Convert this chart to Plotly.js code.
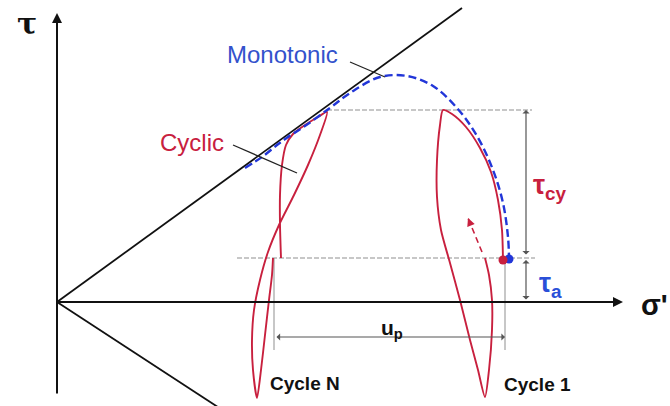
<!DOCTYPE html>
<html><head><meta charset="utf-8">
<script src="https://cdn.plot.ly/plotly-3.0.1.min.js"></script>
<style>html,body{margin:0;padding:0;background:#fff;}#c{width:670px;height:406px;}</style>
</head><body><div id="c"></div>
<script>
// Schematic data: sigma' (x) and tau (y) in arbitrary units, origin at the axes' crossing
const failureUpper = {x:[0, 405], y:[0, 294]};
const failureLower = {x:[0, 170], y:[0, -111]};
const monoX = [188,205,220,231,245,273,293,323,350,376,400,420,436,446,451,452];
const monoY = [134,145,157,165,174,194,209,225,226,216,194,166,132,99,65,44];
const cycNX = [224,223,223,225,229,236,248,261,270,263,251,237,222,211,203,197,195,196,200,204,208,212,215,216];
const cycNY = [44,77,107,137,157,168,177,185,190,167,137,107,77,50,22,-8,-38,-68,-96,-68,-33,2,27,44];
const cyc1X = [446,445,441,434,423,409,395,386,383,380,380,384,393,403,413,421,428,432,435,435,432,428];
const cyc1Y = [42,72,102,130,154,175,188,192,177,142,105,72,39,2,-38,-68,-95,-68,-28,2,27,44];
const reloadX = [425, 411];
const reloadY = [50, 84];
const tauCy = 192;      // cyclic shear stress level
const tauA = 44;        // initial (ambient) shear stress level
const upLeft = 217, upRight = 448;   // permanent displacement u_p ends
const labels = {tau:'τ', sigma:"σ'", mono:'Monotonic', cyclic:'Cyclic', cycN:'Cycle N', cyc1:'Cycle 1',
  up:'u<sub>p</sub>', tcy:'τ<sub>cy</sub>', ta:'τ<sub>a</sub>'};

const RED = '#c8203e', BLUE = '#2236d8', GREY = '#8f8f8f', DARK = '#555555';
const FONT = 'Liberation Sans, Arial, sans-serif';

const traces = [
  {x:failureUpper.x, y:failureUpper.y, mode:'lines', line:{color:'#111', width:1.8}},
  {x:failureLower.x, y:failureLower.y, mode:'lines', line:{color:'#111', width:1.8}},
  {x:[180, 478], y:[tauA, tauA], mode:'lines', line:{color:GREY, width:1, dash:'5px,2px'}},
  {x:[270, 475], y:[tauCy, tauCy], mode:'lines', line:{color:GREY, width:1, dash:'5px,2px'}},
  {x:[upLeft, upLeft], y:[tauA, -48], mode:'lines', line:{color:GREY, width:1}},
  {x:[upRight, upRight], y:[tauA-2, -48], mode:'lines', line:{color:GREY, width:1}},
  {x:cycNX, y:cycNY, mode:'lines', line:{color:RED, width:1.9, shape:'spline', smoothing:0.7}},
  {x:cyc1X, y:cyc1Y, mode:'lines', line:{color:RED, width:1.9, shape:'spline', smoothing:0.7}},
  {x:monoX, y:monoY, mode:'lines', line:{color:BLUE, width:2.4, dash:'8px,4px', shape:'spline', smoothing:1}},
  {x:reloadX, y:reloadY, mode:'lines', line:{color:RED, width:1.6, dash:'6px,4px'}},
  {x:[reloadX[1]], y:[reloadY[1]], mode:'markers', marker:{symbol:'arrow-up', size:8, color:RED, angle:-22}},
  {x:[monoX[monoX.length-1]], y:[monoY[monoY.length-1]-1], mode:'markers', marker:{color:BLUE, size:9}},
  {x:[cyc1X[0]], y:[cyc1Y[0]], mode:'markers', marker:{color:RED, size:9}},
  {x:[176, 240], y:[157, 129], mode:'lines', line:{color:'#222', width:1.3}},
  {x:[293, 328], y:[240, 225], mode:'lines', line:{color:'#222', width:1.3}}
];
traces.forEach(t => { t.hoverinfo = 'skip'; t.showlegend = false; t.type = 'scatter'; });

function arrow(x, y, ax, ay, color, width, both, head) {
  return {x:x, y:y, ax:ax, ay:ay, xref:'x', yref:'y', axref:'x', ayref:'y', text:'', showarrow:true,
    arrowhead: head || 2, startarrowhead: head || 2, arrowsize:1, arrowwidth:width, arrowcolor:color,
    arrowside: both ? 'end+start' : 'end', standoff:0, startstandoff:0};
}
function label(x, y, text, color, size, bold, xanchor, family) {
  return {x:x, y:y, xref:'x', yref:'y', text: bold ? '<b>'+text+'</b>' : text, showarrow:false,
    font:{family:family || FONT, size:size, color:color}, xanchor: xanchor || 'center', yanchor:'middle'};
}

const annotations = [
  arrow(0, 289, 0, -93, '#111', 2, false, 2),
  arrow(566, 0, 0, 0, '#111', 2, false, 2),
  arrow(469, tauCy, 469, tauA+2, DARK, 1.2, true, 1),
  arrow(469, tauA-2, 469, 1, DARK, 1.2, true, 1),
  arrow(upRight, -35, upLeft+1, -35, DARK, 1.2, true, 1),
  label(-30, 279, labels.tau, '#111', 30, true, 'center', 'DejaVu Serif, serif'),
  label(582, -3, labels.sigma, '#111', 29, true, 'left'),
  label(225, 248, labels.mono, '#3352cc', 24, false),
  label(135, 160, labels.cyclic, RED, 24, false),
  label(211, -81, labels.cycN, '#111', 19, true, 'left'),
  label(445, -82, labels.cyc1, '#111', 19, true, 'left'),
  label(335, -27, labels.up, '#111', 21, true),
  label(474, 115, labels.tcy, RED, 27, true, 'left'),
  label(480, 17, labels.ta, '#2a4fd8', 27, true, 'left')
];

const layout = {
  width:670, height:406, margin:{l:0, r:0, t:0, b:0},
  paper_bgcolor:'#fff', plot_bgcolor:'#fff',
  xaxis:{range:[-57, 613], visible:false, fixedrange:true},
  yaxis:{range:[-104, 302], visible:false, fixedrange:true},
  showlegend:false, annotations:annotations
};
Plotly.newPlot('c', traces, layout, {staticPlot:true, displayModeBar:false});
</script></body></html>
